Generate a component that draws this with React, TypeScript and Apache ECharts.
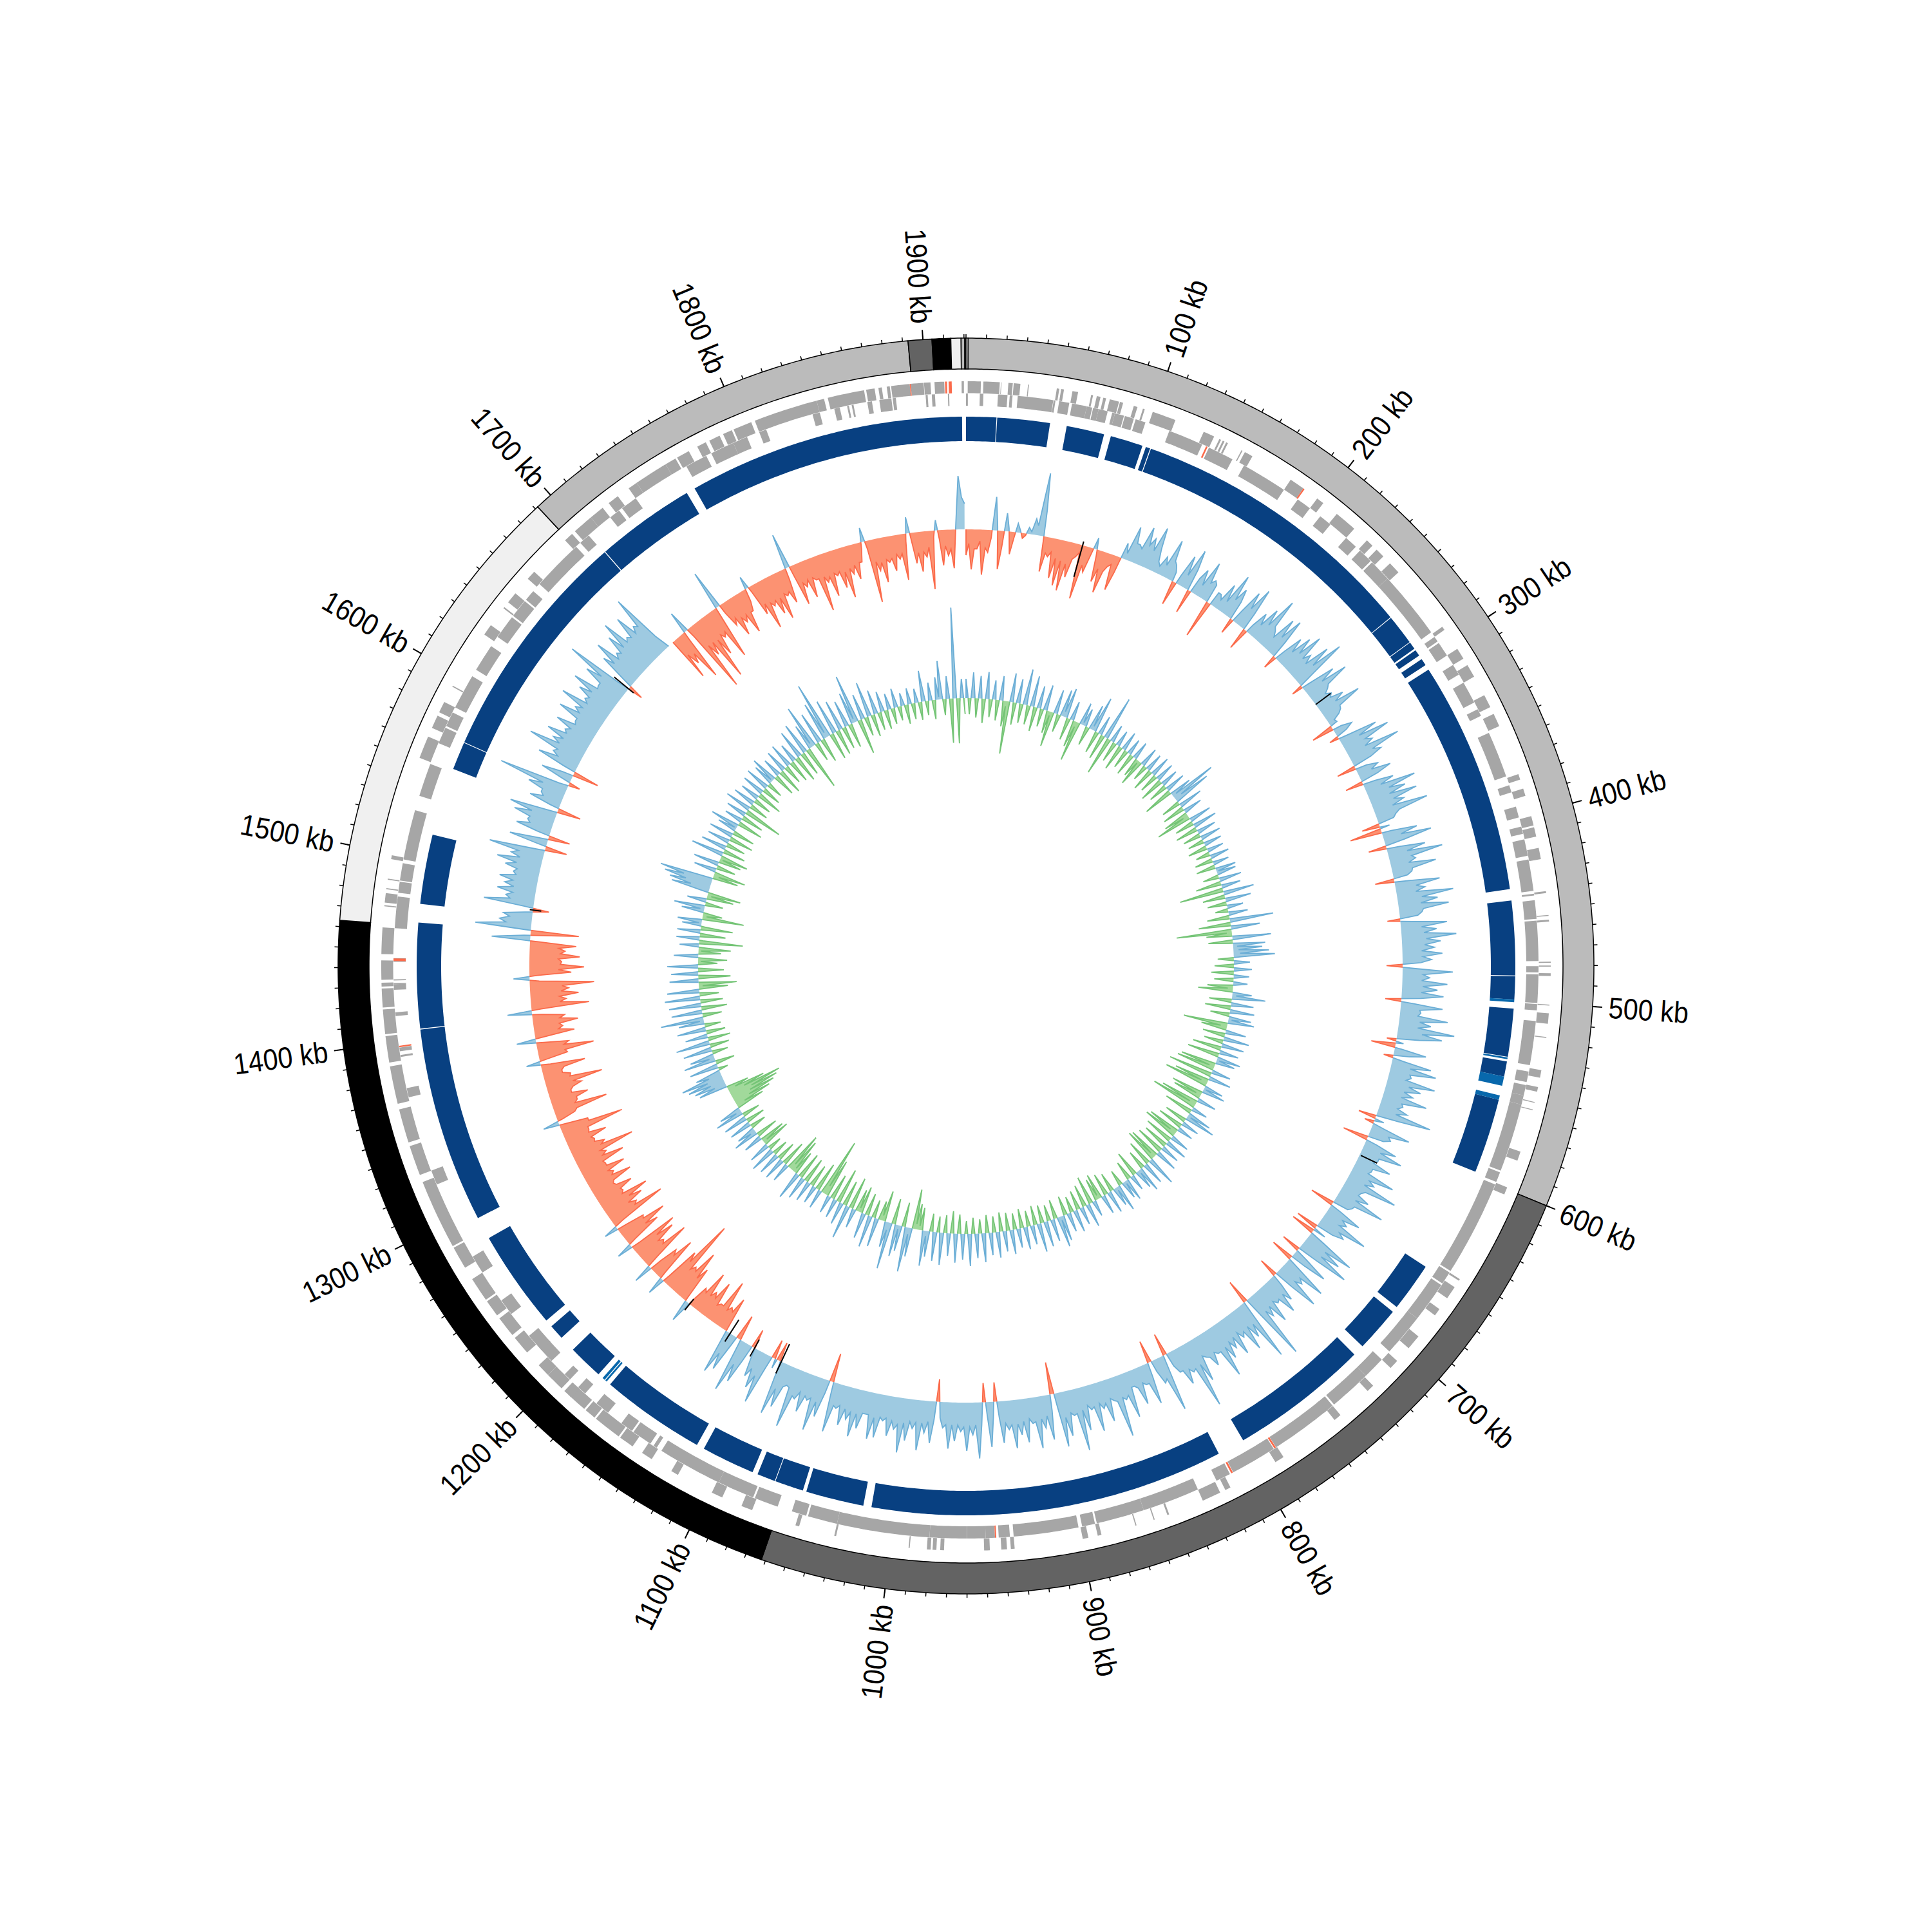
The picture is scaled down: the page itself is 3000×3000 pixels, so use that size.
import React, { useEffect, useRef } from "react";
import * as echarts from "echarts";

const genomeLength = 1921;
const sampleKb = 2;

const labelPositions = [100, 200, 300, 400, 500, 600, 700, 800, 900, 1000, 1100, 1200, 1300, 1400, 1500, 1600, 1700, 1800, 1900];
const tickLabels = labelPositions.map((k) => `${k} kb`);
const minorTicks = Array.from({ length: 193 }, (_, i) => i * 10);

const contigs: [number, number, string][] = [
  [1, 600, "#bbbbbb"], [600, 1062, "#636363"], [1062, 1463, "#000000"], [1463, 1691.5, "#f0f0f0"],
  [1691.5, 1892.7, "#bbbbbb"], [1892.7, 1904.4, "#636363"], [1904.4, 1913.6, "#000000"], [1913.6, 1918.6, "#f0f0f0"],
  [1918.6, 1920.4, "#bbbbbb"], [1920.4, 1921, "#bbbbbb"], [0, 1, "#f0f0f0"],
];

const darkBlocks: [number, number][] = [
  [0, 17], [17.4, 47], [56.4, 77.7], [81.6, 100], [102, 104.5], [105, 270], [270.4, 287.4], [287.8, 292], [293, 296.6], [299, 303],
  [306, 437.3], [443.7, 485.5], [486, 498.9], [504, 531], [533.7, 542.2], [555.5, 597.6], [657.4, 685], [688.4, 714], [720.4, 798.8],
  [814.3, 1013.4], [1018, 1050.7], [1052.7, 1068.8], [1069.2, 1079.5], [1082.5, 1112.6], [1117, 1176], [1184.6, 1204.3], [1213.5, 1222],
  [1226.3, 1282.3], [1295, 1405.3], [1405.8, 1465], [1475.4, 1514.6], [1552.9, 1568.6], [1569, 1701.5], [1702, 1758], [1763, 1918.8],
];
const lightBlocks: [number, number][] = [
  [498.9, 500.4], [531.4, 532.4], [542.2, 547.5], [553, 555.5], [1178.5, 1179.5], [1180, 1181.5],
];

const outerGenes: [number, number][] = [
  [0.9, 7.8], [9.1, 17.7], [18.3, 18.6], [22.2, 24.5], [25, 28.5], [32.5, 33], [47.7, 49], [50, 51.5], [56, 59], [66, 67], [69, 71], [72.5, 74],
  [76, 81], [81.5, 83.2], [89, 91], [94, 95], [99.4, 112], [128, 134], [137, 138], [139, 140], [141, 142], [150, 150.6], [152, 156.5], [180, 188],
  [197, 201], [210, 222], [231, 235], [238, 243], [248, 254.5], [291, 293], [305, 311], [315, 322], [333, 340], [344, 351], [378, 381], [386, 390],
  [401, 406], [407, 412], [418, 424], [441, 442], [453.5, 454], [456, 457], [478, 478.6], [480, 480.6], [484, 485.5], [500.5, 501], [505, 510.5],
  [517.5, 518], [535, 539], [544, 546.5], [552, 552.5], [556, 556.5], [579, 584], [599, 603], [653, 654], [658, 665], [672, 676], [690, 698], [707, 712],
  [725, 729], [748, 752], [785, 790], [817, 820], [823, 833], [852, 853], [860, 860.6], [870, 870.6], [889, 891], [896, 899], [935, 937], [939, 942],
  [948, 951], [972, 974], [976, 978], [979, 981], [990, 990.6], [1029, 1030], [1049, 1051], [1075, 1081], [1092, 1098], [1118, 1122], [1134, 1140],
  [1146, 1154], [1155, 1170], [1171, 1177], [1178, 1188], [1187, 1192], [1194, 1204], [1204, 1211], [1220, 1230], [1232, 1243], [1245, 1254],
  [1255, 1268], [1275, 1287], [1288, 1325], [1329, 1345], [1347, 1365], [1368, 1388], [1390, 1404], [1405, 1418], [1419, 1429], [1430, 1432],
  [1433.5, 1443.7], [1447, 1461], [1472, 1472.6], [1474, 1479], [1481, 1481.6], [1486, 1486.6], [1497, 1499], [1552, 1564], [1569, 1576], [1578, 1584],
  [1593, 1593.6], [1625, 1631], [1642, 1642.8], [1646, 1652], [1662, 1667], [1690, 1695], [1697, 1708], [1708, 1716], [1720, 1726], [1733, 1738],
  [1738, 1756], [1756, 1762], [1763, 1770], [1775, 1780], [1782, 1788], [1790, 1795], [1796, 1806], [1808, 1842], [1842, 1846], [1848, 1867.4],
  [1868.5, 1873], [1875, 1876.8], [1879.4, 1881], [1881.7, 1891.5], [1892, 1898.8], [1899, 1902.4], [1904.5, 1909.6], [1918.7, 1919.9],
];
const innerGenes: [number, number][] = [
  [0, 1], [7.4, 9.3], [17.1, 22.2], [23.4, 24.9], [27.7, 46.8], [47, 48], [50, 55.5], [57, 65], [65, 68], [68.5, 71.5], [71.5, 76.5], [79, 80.5],
  [80.5, 85.5], [86, 91], [92, 97.5], [111, 130], [134, 148], [155, 180], [189, 197], [204, 211], [222, 229], [232, 240], [241, 253], [253, 290],
  [293, 296], [297, 305], [311, 317], [322, 334], [338, 342], [352, 377], [382, 386], [394, 400], [405, 409], [412, 421], [423, 440], [441.5, 442.5],
  [445, 455], [456, 477.6], [480.3, 483.7], [484.7, 500], [500.6, 504], [509.7, 533.5], [537, 542.7], [544.3, 550], [550, 555], [555, 592], [593, 598.5],
  [600, 652], [653, 660], [661, 683], [683, 706], [712, 724], [724, 747], [748, 754], [752, 785.5], [787, 812], [814, 822], [833, 864], [864, 890],
  [891, 898], [900, 935], [937, 943], [945, 950], [950, 960], [960, 980], [980, 1030], [1030, 1046], [1047, 1055], [1063, 1076], [1077, 1097], [1097, 1132],
  [1135, 1137], [1139, 1150], [1151, 1158], [1167, 1175], [1183, 1188], [1194, 1198], [1208, 1217], [1216, 1226], [1241, 1250], [1268, 1278], [1321, 1329],
  [1370, 1375], [1392, 1393], [1395, 1397], [1414, 1416], [1428, 1431], [1431, 1431.6], [1433, 1433.6], [1443, 1445], [1461, 1478], [1480, 1486], [1486.6, 1496],
  [1498, 1525], [1533, 1551], [1563, 1572], [1573, 1581], [1584, 1603], [1607, 1622], [1628, 1641], [1642, 1652], [1653, 1659], [1664, 1692], [1695, 1701],
  [1716, 1722], [1724, 1733], [1765, 1777], [1780, 1793], [1793, 1801], [1808, 1812], [1838, 1842], [1850, 1853], [1857, 1858], [1859.5, 1860.5], [1868, 1870.5],
  [1874.5, 1881], [1881.7, 1883.4], [1899.4, 1900.5], [1902.7, 1904.4], [1911.3, 1912],
];
const outerRedGenes: [number, number][] = [[188, 188.8], [1891.5, 1892], [1910, 1911], [1911.9, 1913.5]];
const innerRedGenes: [number, number][] = [[132.3, 133.2], [785.6, 786.6], [812.2, 813.2], [944.3, 945], [1397.2, 1398], [1443.4, 1444.8]];

const gcPeaks = [
  -40, -62, -30, -70, -35, 52, -60, 28, -35, 14, -8, 10, 25, 98, -55, -30, -62, -72, -78, -55, -20, -85, -40, 18, -50,
  -65, -20, -55, 25, 55, 30, 62, 48, 70, 18, 30, 62, 25, -38, 50, 65, -38, 42, 60, 35, -60, 22, 45, 68, 50,
  -25, 58, 70, -35, 40, 55, 80, 30, 60, 66, -22, 48, 58, 70, 42, 68, 85, -18, 55, 72, 30, 30, 45, 68, 28,
  10, -35, 30, -15, 62, 78, 45, 85, 50, -30, 35, 52, -28, 48, 80, 60, 75, 50, 85, 30, -28, -50, 55, 75, -28,
  60, 85, 40, 70, 30, -30, 70, 45, 88, 62, 78, 35, -20, 72, 55, 85, 60, 50, 62, 45, -25, 78, 42, 70, 55,
  65, -25, 65, 32, 75, 50, 88, 70, -15, -38, 50, -15, 62, 72, 35, 75, 55, 45, 70, 35, 45, 86, -28, -15, 62,
  35, -40, 52, 65, 30, 55, 28, 70, 42, 84, 30, 48, 78, 30, -38, 55, 38, 78, 45, -35, -38, 80, 65, 85, -30,
  60, -36, 72, 40, 75, -30, 45, 60, 35, 62, 45, 110, -38, 99, 55, 70, 42, 65, 48, 60, 85, 40, 55, 35, 70,
  108, 45, 60, 35, -35, 89, 40, -35, 65, 30, 58, 25, 72, 40, 96, 35, 65, 42, 75, 38, 68, 98, 40, 70, 85,
  -50, 70, 50, 80, 40, 68, 55, 75, 45, 65, -30, 70, -30, 87, 50, 75, 45, 60, 72, 40, -35, 65, 50, 78, 45,
  65, 85, 50, 62, 40, 68, 72, 35, 60, 75, 50, 62, 38, 78, -45, 60, 85, 40, 62, 45, 94, 30, 70, 85, -30,
  -30, 80, 60, 45, -30, 65, 85, -40, 60, 70, -55, -35, -75, -30, -62, -40, -68, -35, 35, -58, -82, -50, -124, -65, 28,
  -72, -48, 30, -81, -45, -70, -78, 25, -60, -78, -45, 22, -91, -50, -65, -79, -42, -62, -35, -70, -45, -68, -40, -75, -50,
  -99, -55, -42, -65, -40, -99, -45, 25, -30, -85, -40, -60, -35, -55, -90, -42, -30, -69, 22, -45, -88, -50, 30, -62, -45,
  -70, -50, 38, -90, -55, -75, -60, -100, 25, -65, -85, -50, -78, -55, -72, 60, -75, 87, 50, 45, -25, 78, 45, 60, 50,
  60, 40, 55, 70, 50, 87, -34, 60, -34, 55, 40, 65, 75, -37, 50, 35, 60, 111, -18, 50, -41, 65, 45, 90, 55,
  70, 45, 65, 38, 72, 50, 80, 45, 62, 78, 40, 70, 107, -24, 60, 80, 50, 75, 92, 55, 85, 60, 104, 0, -70,
  -50, -82, 35, -114, -60, -106, -70, -45, -85, 62, -40, -62, -45, -67, -35, 20, -50, -78, -45, -62, -74, -40, -55, 55, -65,
  -40, -60, -35, -88, -45, -70, -40, -62, -80, -45, -55, -30, 22, -98, -50, -70, -40, -55, -38, -72, 25, -48, -62, -40, -91,
  16, -55, -40, -60, 83, 40,
];

const gcTroughs = [
  -22, -30, -18, -28, -12, 6, -25, 5, -10, 4, -3, 4, 15, 40, -25, -22, -30, -32, -35, -25, -12, -30, -12, -10, -28,
  -30, -15, -25, 10, 30, 25, 35, 30, 38, 12, 18, 30, 15, 15, 20, 35, 25, 18, 28, 30, 22, 15, 18, 28, 30,
  20, 32, 28, 15, 22, 30, 35, 22, 30, 28, 18, 25, 32, 30, 28, 35, 30, 20, 30, 35, 22, 25, 28, 30, 22,
  12, 14, 18, 20, 30, 35, 30, 38, 30, 18, 22, 28, 20, 25, 35, 32, 35, 30, 38, 25, 15, 15, 28, 32, 20,
  30, 35, 28, 32, 22, 22, 32, 30, 38, 35, 38, 28, 22, 32, 35, 38, 35, 30, 32, 28, 20, 32, 30, 32, 30,
  30, 20, 30, 28, 32, 30, 38, 35, 12, 12, 25, 18, 30, 32, 28, 35, 30, 28, 32, 28, 28, 35, 15, 18, 30,
  25, 18, 28, 30, 25, 28, 25, 32, 28, 35, 28, 28, 32, 25, 20, 28, 28, 35, 28, 20, 25, 35, 35, 35, 20,
  25, 20, 32, 30, 32, 18, 30, 32, 28, 30, 32, 35, 20, 35, 32, 35, 30, 32, 35, 38, 40, 35, 38, 30, 40,
  42, 38, 35, 22, 25, 35, 18, 22, 30, 25, 30, 25, 35, 35, 38, 30, 35, 32, 35, 30, 35, 38, 35, 40, 20,
  25, 32, 35, 38, 32, 35, 38, 38, 35, 25, 25, 22, 35, 35, 38, 38, 35, 35, 35, 25, 28, 32, 35, 35, 35,
  38, 42, 38, 35, 35, 38, 35, 35, 38, 38, 35, 32, 35, 20, 20, 38, 35, 35, 32, 42, 32, 35, 42, 18, 15,
  20, 38, 30, 15, 25, 38, 10, 12, 35, 8, -30, -28, -30, -25, -32, -30, -30, -8, -5, -38, -45, -42, -50, -12, -15,
  -40, -20, -20, -40, -38, -42, -15, -12, -40, -42, -15, -15, -45, -38, -45, -38, -40, -38, -38, -40, -38, -40, -38, -42, -42,
  -48, -40, -38, -38, -40, -45, -12, -8, -35, -35, -40, -35, -40, -42, -40, -30, -35, -15, -12, -42, -42, -12, -15, -38, -40,
  -42, -15, -15, -45, -45, -48, -50, -15, -12, -45, -48, -45, -48, -45, -15, 10, 10, 40, 35, 12, 15, 38, 35, 35, 38,
  35, 35, 38, 35, 40, 15, 15, 15, 20, 35, 38, 38, 15, 15, 30, 35, 38, 15, 15, 18, 20, 35, 40, 42, 40,
  40, 38, 35, 38, 40, 40, 38, 40, 42, 38, 40, 45, 20, 18, 42, 42, 45, 48, 50, 50, 50, 55, 25, 0, -30,
  -35, -15, -15, -40, -40, -42, -38, -38, -20, -15, -30, -35, -35, -35, -20, -10, -35, -38, -38, -38, -35, -35, -18, -15, -32,
  -30, -30, -35, -35, -38, -35, -35, -38, -35, -32, -30, -10, -12, -35, -38, -35, -35, -30, -30, -12, -12, -32, -32, -25, -10,
  -15, -25, -30, 10, 50, 20,
];

const skewPeaks = [
  30, -25, 40, -30, 35, -38, 42, -28, 30, -32, 38, -40, -82, 45, -35, 38, -30, 56, -30, 48, -38, 35, -28, 40, -35,
  -55, 38, -28, 42, 47, -35, 30, -42, -63, 35, 28, -30, 40, 56, -35, 30, -40, 69, -60, 28, -32, 25, -40, 30, -30,
  25, -35, 28, -30, -42, 30, -25, 28, -35, 32, -30, 30, -38, 28, -30, 32, -47, 35, 74, 60, -30, 38, -35, 30, -40,
  -56, 35, -30, 38, -35, 30, -28, 32, -25, 28, -30, 26, -22, 30, -28, 25, -30, 32, 30, -25, 35, -40, 30, -69, 48,
  -35, 40, -30, 25, -20, 30, -35, 68, -50, 45, -86, -40, 60, -38, 50, 45, 55, 64, -25, 25, -30, 28, -35, 24, -30,
  22, -40, -54, 30, 52, -35, 35, -40, 38, -30, 35, 41, -69, -40, 32, -35, 40, -30, 35, -45, 30, -50, 37, 30, -55,
  -60, 30, -69, 35, -55, -69, 30, 36, -50, -45, 30, -60, -73, 25, -45, 38, 48, -35, 28, -40, 25, -50, -55, 30, -45,
  35, -40, 30, -45, 35, -50, -53, 47, -40, 35, -30, 40, 30, -40, 25, -30, 35, 28, -25, 42, 30, -30, 35, -35, 30,
  -40, -35, 25, -44, 37, -35, 28, -30, 35, -25, 30, -30, 40, 48, -30, 35, -25, 40, -28, 45, -30, 30, -25, 35, -30,
  30, -25, 38, -28, 32, -30, 40, -25, 35, -28, 45, -22, 38, -25, 50, -20, 40, -30, 45, -35, 35, -28, 50, -25, 45,
  -28, 40, 55, -35, -40, -62, 45, 70, -38, 40, 50, -40, 73, 40, -48, -30, 45, -28, 50, -35, 40, -42, -35, 30, -50,
  53, -40, 35, -55, 30, -40, 28, -60, -91, 30, -45, 28, -35, 32, -40, 36, -42, 44, -38, -55, -62, 30, -40, 35, -30,
  35, -25, 40, -22, 33, -45, -40, 30, -35, 40, 30, -25, 35, -30, 38, -28, 45, 35, -45, -60, -70, -78, -85, -60, -35,
  45, 50, 58, 66, 40, -15, 45, -30, 50, 38, -25, 45, -30, 53, -35, 35, -30, 45, -25, 40, 67, -30, 48, -40, 50,
  -35, 55, -30, 50, -45, -59, 45, -50, 42, -40, 48, -30, -45, 38, -35, -50, 30, -68, 36, -40, 36, -50, 30, 38, -65,
  -30, 35, 48, -28, 30, -42, -52, 60, 65, 75, 84, -40, -50, 35, -30, 40, -35, -44, 51, -35, 40, -30, 35, -38, 38,
  -35, 30, 45, -40, 28, -35, 32, -61, 41, -30, 35, -28, 30, -40, 35, -30, 38, -25, 33, 42, -35, 30, -40, 35, -30,
  38, -35, 30, -42, 45, -38, 50, -69, 40, 69, -30, 50, -38, 60, 90, -42, 55, -40, 48, -35, 42, -38, 50, 76, -55,
  40, -30, 55, -35, 38, -28, 32, -30, 25, -25, 30, -22, 20, -30, 25, -25, 22, -28, 48, -22, 28, -30, 35, 60, -25,
  35, -69, 141, -70, 30, -25,
];

const skewTroughs = [
  6, 4, 5, -3, 4, -4, 5, -3, 3, -4, 6, -8, -6, 4, 5, -3, 6, 4, -3, 5, -4, 3, 4, -3, -6,
  -4, 3, -3, 8, 5, -3, 4, -8, -5, 4, 3, -3, 6, 8, -4, 3, -4, 6, -5, 3, -3, 2, -4, 3, -2,
  2, -3, 3, -4, -3, 3, -2, 3, -3, 4, -2, 3, -4, 4, -3, 3, -4, 6, 12, 10, -3, 3, -4, 3, -8,
  -4, 3, -4, 3, -5, 3, -3, 3, -2, 2, -3, 2, -3, 3, -3, 2, -3, 3, 2, -2, 3, -4, 3, -6, 3,
  -3, 4, -3, 2, -2, 3, -4, 5, -6, 4, -8, -3, 6, -5, 6, 8, 10, 12, -2, 3, -3, 2, -3, 2, -2,
  3, -8, -4, 6, 5, -3, 3, -4, 4, -3, 5, 3, -10, -4, 3, -4, 4, -3, 3, -4, 3, -6, 4, 2, -8,
  -6, 2, -8, 3, -10, -6, 3, 4, -8, -6, 3, -10, -8, 3, -5, 5, 4, -3, 2, -4, 2, -10, -6, 3, -5,
  3, -4, 3, -6, 3, -8, -4, 4, -3, 3, -3, 5, 3, -3, 2, -3, 4, 2, -2, 5, 3, -3, 3, -4, 3,
  -6, -3, 2, -6, 3, -4, 2, -3, 3, -2, 3, -3, 6, 5, -3, 3, -2, 4, -3, 5, -3, 3, -2, 3, -3,
  3, -2, 4, -3, 3, -3, 4, -2, 3, -3, 8, -2, 6, -2, 8, 2, 6, -4, 8, -5, 5, -3, 12, 3, 6,
  -2, 8, 6, -6, -8, -8, 10, 15, -3, 6, 5, -4, 12, 5, -8, -4, 5, -3, 6, -4, 5, -6, -4, 4, -6,
  5, -4, 5, -8, 3, -6, 3, -14, -16, 3, -5, 3, -4, 4, -5, 5, -6, 6, -6, -10, -8, 3, -5, 5, -3,
  5, -3, 6, -2, 5, -6, -4, 5, -4, 8, 3, -3, 6, -4, 8, -4, 8, 6, -14, -25, -30, -35, -25, -12, 2,
  18, 22, 25, 20, 8, 4, 6, -3, 8, 6, -2, 8, -3, 8, -3, 4, -3, 5, -3, 6, 5, -3, 6, -4, 6,
  -3, 6, -3, 6, -6, -4, 5, -5, 4, -6, 4, -4, -5, 4, -4, -6, 3, -6, 5, -4, 5, -6, 4, 3, -6,
  -2, 6, 5, -3, 4, -6, 8, 30, 40, 45, 15, -8, -5, 5, -3, 4, -4, -6, 4, -4, 4, -3, 4, -4, 4,
  -3, 3, 5, -4, 3, -4, 3, -8, 5, -3, 4, -3, 3, -4, 4, -3, 4, -2, 3, 5, -3, 3, -3, 3, -3,
  4, -3, 3, -4, 5, -4, 6, -6, 6, 8, -3, 6, -4, 8, 8, -4, 6, -4, 5, -3, 5, -4, 6, 6, -4,
  4, -3, 6, -3, 5, -3, 4, -3, 3, -3, 3, -2, 2, -3, 3, -2, 3, -3, 6, -2, 3, -3, 4, 6, -3,
  5, -6, 8, -6, 4, -3,
];

const blackMarks: [number, number, number][] = [
  [82.7, -51, 6], [284, 0, 29], [617, 2, 30], [1094, -30, 20], [1115, -15, 15], [1135, -25, 15], [1170, -10, 12], [1480, -13, 5], [1651, -10, 29],
];

const BASE_GC = 678;
const BASE_SKEW = 416;

function interleave(peaks: number[], troughs: number[]) {
  const out: number[] = [];
  peaks.forEach((p, i) => {
    out.push(p);
    if (i < peaks.length - 1) out.push(troughs[i]);
  });
  return out;
}

function arc(api: any, r: number, a: number, b: number) {
  const pts: number[][] = [];
  const n = Math.max(1, Math.ceil((b - a) / 2));
  for (let i = 0; i <= n; i++) pts.push(api.coord([r, a + ((b - a) * i) / n]).slice(0, 2));
  return pts;
}

function ringBlock(api: any, r0: number, r1: number, a: number, b: number) {
  return [...arc(api, r1, a, b), ...arc(api, r0, a, b).reverse()];
}

function blockSeries(blocks: [number, number, string?][], r0: number, r1: number, fill: string, stroke?: string) {
  return {
    type: "custom",
    coordinateSystem: "polar",
    silent: true,
    clip: false,
    data: blocks.map((b) => [b[0], b[1]]),
    renderItem: (params: any, api: any) => {
      const b = blocks[params.dataIndex];
      return {
        type: "polygon",
        shape: { points: ringBlock(api, r0, r1, b[0], b[1]) },
        style: { fill: b[2] || fill, stroke: stroke || "none", lineWidth: stroke ? 1.5 : 0 },
      };
    },
  };
}

function signRuns(values: number[]) {
  const runs: { sign: number; pts: number[][] }[] = [];
  let cur: { sign: number; pts: number[][] } | null = null;
  values.forEach((v, i) => {
    const kb = i * sampleKb;
    const s = v > 0 ? 1 : v < 0 ? -1 : 0;
    if (i > 0) {
      const p = values[i - 1];
      if (p * v < 0) {
        const c = kb - sampleKb + (sampleKb * Math.abs(p)) / (Math.abs(p) + Math.abs(v));
        if (cur) cur.pts.push([c, 0]);
        cur = { sign: s, pts: [[c, 0]] };
        runs.push(cur);
      }
    }
    if (s === 0) {
      if (cur) cur.pts.push([kb, 0]);
      cur = null;
      return;
    }
    if (!cur) {
      cur = { sign: s, pts: [[kb, 0]] };
      runs.push(cur);
    }
    cur.pts.push([kb, v]);
  });
  return runs;
}

function wiggleSeries(values: number[], base: number, posFill: string, posLine: string, negFill: string, negLine: string) {
  const runs = signRuns(values);
  return {
    type: "custom",
    coordinateSystem: "polar",
    silent: true,
    clip: false,
    data: [[0, 0]],
    renderItem: (_: any, api: any) => {
      const children: any[] = [];
      runs.forEach((run) => {
        const top = run.pts.map((p) => api.coord([base + p[1], p[0]]).slice(0, 2));
        const bottom = run.pts.map((p) => api.coord([base, p[0]]).slice(0, 2)).reverse();
        children.push({
          type: "polygon",
          shape: { points: [...top, ...bottom] },
          style: { fill: run.sign > 0 ? posFill : negFill, stroke: "none" },
        });
      });
      runs.forEach((run) => {
        const top = run.pts.map((p) => api.coord([base + p[1], p[0]]).slice(0, 2));
        children.push({
          type: "polyline",
          shape: { points: top },
          style: { fill: "none", stroke: run.sign > 0 ? posLine : negLine, lineWidth: 1.8 },
        });
      });
      return { type: "group", children };
    },
  };
}

function tickSeries(kbs: number[], r0: number, r1: number, width: number) {
  return {
    type: "custom",
    coordinateSystem: "polar",
    silent: true,
    clip: false,
    data: kbs.map((k) => [r1, k]),
    renderItem: (params: any, api: any) => {
      const k = kbs[params.dataIndex];
      const a = api.coord([r0, k]);
      const b = api.coord([r1, k]);
      return {
        type: "line",
        shape: { x1: a[0], y1: a[1], x2: b[0], y2: b[1] },
        style: { stroke: "#000", lineWidth: width },
      };
    },
  };
}

const labelSeries = {
  type: "custom",
  coordinateSystem: "polar",
  silent: true,
  clip: false,
  data: labelPositions.map((k) => [1000, k]),
  renderItem: (params: any, api: any) => {
    const k = labelPositions[params.dataIndex];
    const p = api.coord([1000, k]);
    const theta = (k / genomeLength) * 360;
    const right = theta < 180;
    const deg = right ? theta - 90 : theta - 270;
    return {
      type: "text",
      x: p[0],
      y: p[1],
      rotation: (-deg * Math.PI) / 180,
      scaleX: 0.9,
      style: {
        text: tickLabels[params.dataIndex],
        font: '46px "Liberation Sans", sans-serif',
        fill: "#000",
        align: right ? "left" : "right",
        verticalAlign: "middle",
      },
    };
  },
};

const blackSeries = {
  type: "custom",
  coordinateSystem: "polar",
  silent: true,
  clip: false,
  data: blackMarks.map((m) => [BASE_GC, m[0]]),
  renderItem: (params: any, api: any) => {
    const m = blackMarks[params.dataIndex];
    const a = api.coord([BASE_GC + m[1], m[0]]);
    const b = api.coord([BASE_GC + m[2], m[0]]);
    return { type: "line", shape: { x1: a[0], y1: a[1], x2: b[0], y2: b[1] }, style: { stroke: "#000", lineWidth: 2 } };
  },
};

export default function App() {
  const ref = useRef<HTMLDivElement>(null);
  useEffect(() => {
    const chart = echarts.init(ref.current!, null, { renderer: "svg" });
    chart.setOption({
      animation: false,
      backgroundColor: "#ffffff",
      polar: { center: [1500, 1500], radius: 1000 },
      angleAxis: { type: "value", min: 0, max: genomeLength, startAngle: 90, clockwise: true, show: false },
      radiusAxis: { type: "value", min: 0, max: 1000, show: false },
      series: [
        tickSeries(minorTicks, 975, 981, 1.5),
        tickSeries(labelPositions, 975, 990, 2),
        blockSeries(contigs, 927, 975, "#bbbbbb", "#000"),
        blockSeries(outerGenes, 889.5, 908, "#a6a6a6"),
        blockSeries(innerGenes, 870, 889, "#a6a6a6"),
        blockSeries(outerRedGenes, 889.5, 908, "#fb6a4a"),
        blockSeries(innerRedGenes, 870, 889, "#fb6a4a"),
        blockSeries(darkBlocks, 815, 853, "#084081"),
        blockSeries(lightBlocks, 815, 853, "#0868ac"),
        wiggleSeries(interleave(gcPeaks, gcTroughs), BASE_GC, "#9ecae1", "#6baed6", "#fc9272", "#fb6a4a"),
        blackSeries,
        wiggleSeries(interleave(skewPeaks, skewTroughs), BASE_SKEW, "#9ecae1", "#6baed6", "#a1d99b", "#74c476"),
        labelSeries,
      ],
    });
    return () => chart.dispose();
  }, []);
  return <div ref={ref} style={{ position: "absolute", left: 0, top: 0, width: 3000, height: 3000 }} />;
}
